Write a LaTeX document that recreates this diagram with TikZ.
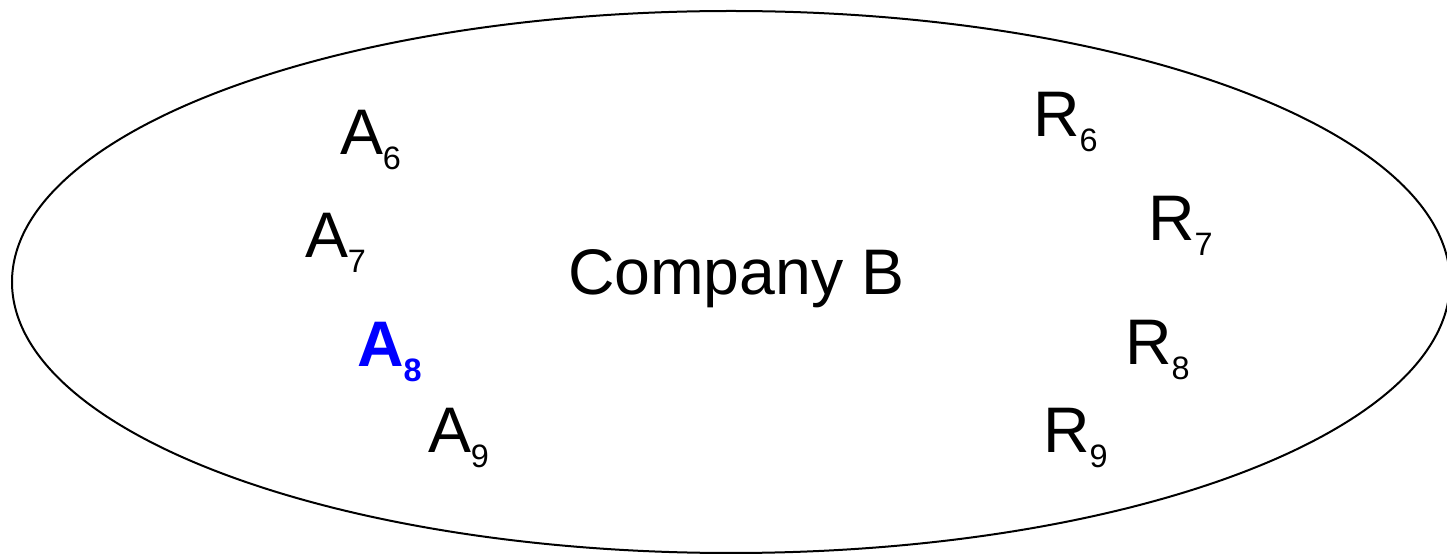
\documentclass[tikz,border=0pt]{standalone}
\usepackage{fontspec}
\setmainfont{Liberation Sans}
\newcommand{\lsub}[1]{\raisebox{-7.5pt}{\fontsize{16.2pt}{18pt}\selectfont #1}}
\definecolor{lblue}{RGB}{0,0,255}
\begin{document}
\begin{tikzpicture}[x=0.5pt,y=-0.5pt,
  lbl/.style={inner sep=0pt, outer sep=0pt, anchor=base west, font=\fontsize{32.2pt}{36pt}\selectfont},
  hl/.style={lbl, text=lblue, font=\fontsize{32.2pt}{36pt}\selectfont\bfseries}]
\useasboundingbox (0,0) rectangle (1447,555);
\draw[line width=1pt] (731,282) ellipse [x radius=719, y radius=271];
\node[lbl] (company) at (568,295) {Company B};
\node[lbl] (a6) at (340,155) {A\lsub{6}};
\node[lbl] (a7) at (305,258) {A\lsub{7}};
\node[hl] (a8) at (357,367) {A\lsub{8}};
\node[lbl] (a9) at (428,453) {A\lsub{9}};
\node[lbl] (r6) at (1033,137) {R\lsub{6}};
\node[lbl] (r7) at (1148,241) {R\lsub{7}};
\node[lbl] (r8) at (1125,365) {R\lsub{8}};
\node[lbl] (r9) at (1043,453) {R\lsub{9}};
\end{tikzpicture}
\end{document}
